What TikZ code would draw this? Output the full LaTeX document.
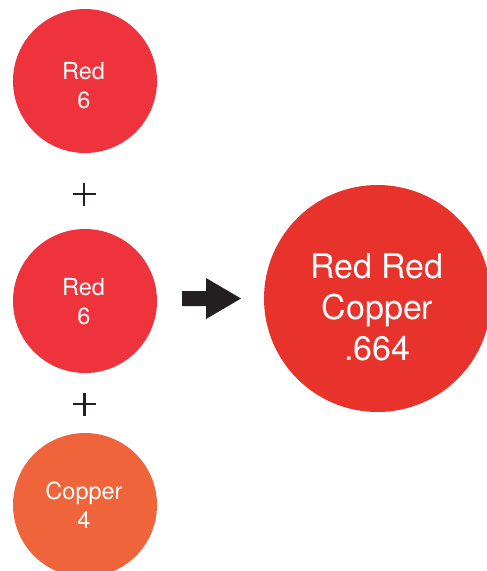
\documentclass[tikz,border=0pt]{standalone}
\usepackage{fontspec}
\setmainfont{TeX Gyre Heros}
\definecolor{redc}{HTML}{EE333D}
\definecolor{copperc}{HTML}{F0643B}
\definecolor{bigc}{HTML}{E7332C}
\definecolor{inkc}{HTML}{231F20}
\begin{document}
\begin{tikzpicture}[x=1pt,y=-1pt,
  disc/.style={circle,inner sep=0pt,minimum size=144pt,draw=none},
  bigdisc/.style={circle,inner sep=0pt,minimum size=227pt,draw=none,fill=bigc},
  small/.style={anchor=base,text=white,inner sep=0pt,font=\fontsize{23.5}{28}\selectfont},
  large/.style={anchor=base,text=white,inner sep=0pt,font=\fontsize{34}{40}\selectfont},
  plus/.style={draw=inkc,line width=2.5pt}]
\useasboundingbox (0,0) rectangle (487,571);
% circles
\node[disc,fill=redc] (c1) at (85,81) {};
\node[disc,fill=redc] (c2) at (85,301) {};
\node[disc,fill=copperc] (c3) at (85,505) {};
\node[bigdisc] (big) at (377.5,298.5) {};
% texts
\node[small] (t1a) at (83.5,79) {Red};
\node[small] (t1b) at (84,108) {6};
\node[small] (t2a) at (83.5,295) {Red};
\node[small] (t2b) at (84,324) {6};
\node[small] (t3a) at (84,499) {Copper};
\node[small] (t3b) at (84,528) {4};
\node[large] (b1) at (377,278) {Red Red};
\node[large] (b2) at (377.5,319) {Copper};
\node[large] (b3) at (377.5,360) {.664};
% plus signs
\coordinate (p1) at (84,194);
\coordinate (p2) at (84.5,404);
\draw[plus] ([xshift=-11.5pt]p1) -- ([xshift=11.5pt]p1);
\draw[plus] ([yshift=-11.5pt]p1) -- ([yshift=11.5pt]p1);
\draw[plus] ([xshift=-11.5pt]p2) -- ([xshift=11.5pt]p2);
\draw[plus] ([yshift=-11.5pt]p2) -- ([yshift=11.5pt]p2);
% arrow
\fill[inkc] (182,291) -- (206,291) -- (206,278) -- (241,298.5) -- (206,319) -- (206,306) -- (182,306) -- cycle;
\end{tikzpicture}
\end{document}
